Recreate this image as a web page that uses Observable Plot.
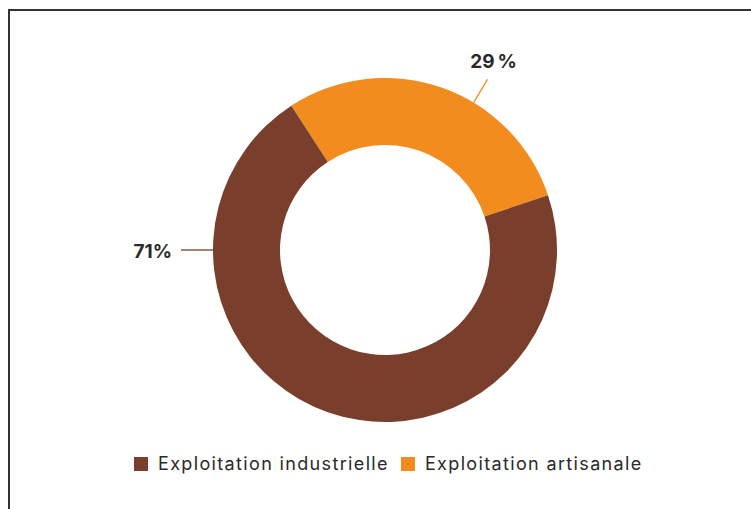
<!DOCTYPE html>
<html><head><meta charset="utf-8">
<script src="https://cdn.jsdelivr.net/npm/d3@7"></script>
<script src="https://cdn.jsdelivr.net/npm/@observablehq/plot@0.6"></script>
<style>
body{margin:0;background:#fff;font-family:Inter,"Noto Sans",sans-serif;}
#wrap{position:relative;width:751px;height:509px;overflow:hidden;}
#frame{position:absolute;left:8px;top:9px;width:800px;height:600px;border-top:2px solid #333;border-left:2px solid #333;}
#chart{position:absolute;left:0;top:0;}
#legend{position:absolute;left:134px;top:453px;}
#legend > div{margin:0 !important;min-height:0 !important;}
#legend span{margin-right:12px !important;letter-spacing:1.35px;}
#legend svg{margin-right:10px !important;}
</style></head>
<body><div id="wrap"><div id="frame"></div><div id="chart"></div><div id="legend"></div></div>
<script>
const categories = ["Exploitation industrielle", "Exploitation artisanale"];
const shares = [71, 29];
const labels = ["71%", "29\u202F%"];
const colors = ["#7A3F2C", "#F28C1F"];

const data = categories.map((c, i) => ({category: c, share: shares[i], label: labels[i]}));
const color = Plot.scale({color: {type: "ordinal", domain: categories, range: colors}});

// layout
const W = 751, H = 440, cx = 385, cy = 250, rOuter = 172, rInner = 105;
const deg = Math.PI / 180;
const labelAngle = {"Exploitation industrielle": -90 * deg, "Exploitation artisanale": 31 * deg};

function donut(index, scales, values, dims) {
  const svg = d3.create("svg:g");
  const pie = d3.pie().sort(null).value(d => d.share)
    .startAngle(-33 * deg).endAngle(-33 * deg + 2 * Math.PI);
  const ordered = [data[1], data[0]];
  const arcs = pie(ordered);
  const arc = d3.arc().innerRadius(rInner).outerRadius(rOuter);
  const g = svg.append("g").attr("transform", `translate(${cx},${cy})`);
  g.selectAll("path").data(arcs).join("path")
    .attr("d", arc).attr("fill", d => color.apply(d.data.category));
  for (const a of arcs) {
    const ang = labelAngle[a.data.category];
    const s = Math.sin(ang), c = -Math.cos(ang);
    const r1 = rOuter, r2 = rOuter + (s < -0.9 ? 32 : 27);
    g.append("line")
      .attr("x1", r1 * s).attr("y1", r1 * c).attr("x2", r2 * s).attr("y2", r2 * c)
      .attr("stroke", color.apply(a.data.category)).attr("stroke-width", 1.3);
    const left = s < -0.5;
    g.append("text")
      .attr("x", left ? r2 * s - 9 : r2 * s + 6)
      .attr("y", left ? r2 * c + 1 : r2 * c - 18)
      .attr("text-anchor", left ? "end" : "middle")
      .attr("dominant-baseline", "central")
      .attr("font-weight", 700).attr("font-size", 19).attr("fill", "#2a2a2a")
      .text(a.data.label);
  }
  return svg.node();
}

const plot = Plot.plot({
  width: W, height: H, margin: 0,
  x: {domain: [0, W], axis: null}, y: {domain: [0, H], axis: null},
  style: {background: "transparent", fontFamily: "Inter, 'Noto Sans', sans-serif", overflow: "visible"},
  marks: [donut]
});
document.getElementById("chart").append(plot);

const legend = Plot.legend({
  color: {type: "ordinal", domain: categories, range: colors},
  legend: "swatches", swatchSize: 14,
  style: {fontSize: "18px", fontFamily: "Inter, 'Noto Sans', sans-serif", color: "#2a2a2a"}
});
document.getElementById("legend").append(legend);
</script>
</body></html>
